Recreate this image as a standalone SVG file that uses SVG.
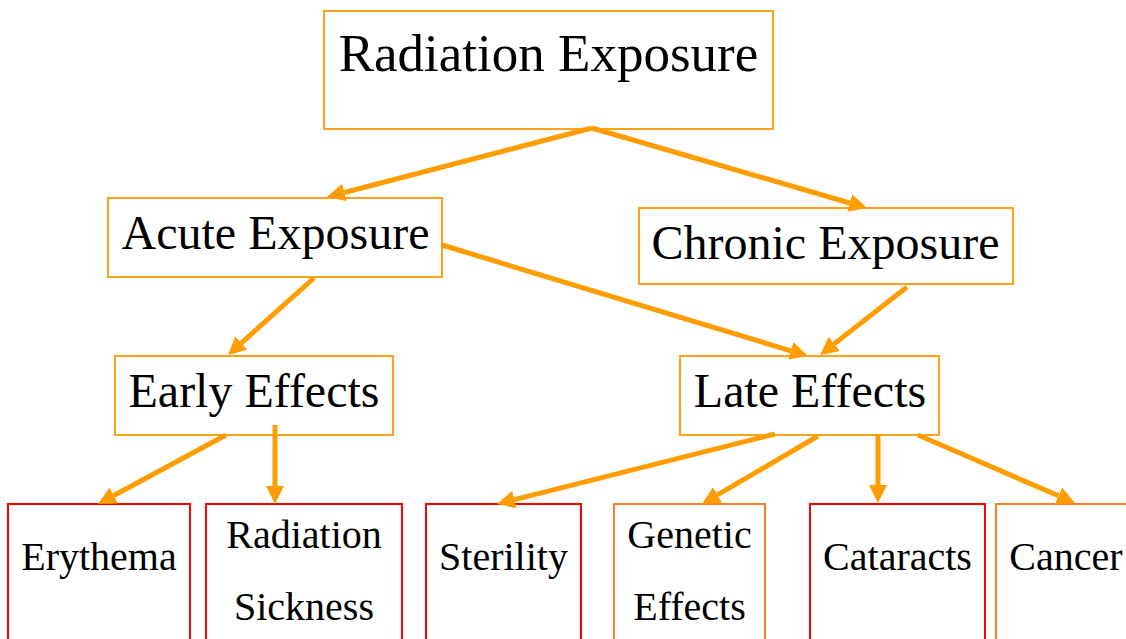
<svg xmlns="http://www.w3.org/2000/svg" width="1126" height="639" viewBox="0 0 1126 639">
<style>
.box{fill:#fff;stroke:#ffa21a;stroke-width:2}
.red{fill:#fff;stroke:#ff0000;stroke-width:2}
.org{fill:#fff;stroke:#ff8020;stroke-width:2}
.t{font-family:"Liberation Serif","Times New Roman",serif;fill:#000;text-anchor:middle}
.big{font-size:53px}
.mid{font-size:48px}
.sm{font-size:40px}
.c{stroke:#ff9c00;stroke-width:5;fill:none;marker-end:url(#ah)}
</style>
<defs>
<marker id="ah" markerUnits="userSpaceOnUse" viewBox="0 0 18 18" markerWidth="18" markerHeight="18" refX="0" refY="9" orient="auto">
<path d="M0,0 L18,9 L0,18 z" fill="#ff9c00"/>
</marker>
</defs>
<rect width="1126" height="639" fill="#fff"/>
<g id="n-radiation-exposure"><rect class="box" x="324" y="11" width="449" height="118"/><text class="t big" x="548.5" y="71">Radiation Exposure</text></g>
<g id="n-acute"><rect class="box" x="108" y="198" width="334" height="79"/><text class="t mid" x="275.5" y="249">Acute Exposure</text></g>
<g id="n-chronic"><rect class="box" x="639" y="208" width="374" height="76"/><text class="t mid" x="825.5" y="259">Chronic Exposure</text></g>
<g id="n-early"><rect class="box" x="115" y="356" width="278" height="79"/><text class="t mid" x="254" y="407">Early Effects</text></g>
<g id="n-late"><rect class="box" x="680" y="356" width="259" height="79"/><text class="t mid" x="810" y="407">Late Effects</text></g>
<g id="n-erythema"><rect class="red" x="8" y="504" width="182" height="150"/><text class="t sm" x="99" y="570">Erythema</text></g>
<g id="n-sickness"><rect class="red" x="206" y="504" width="196" height="150"/><text class="t sm" x="304" y="548">Radiation</text><text class="t sm" x="304" y="620">Sickness</text></g>
<g id="n-sterility"><rect class="red" x="426" y="504" width="155" height="150"/><text class="t sm" x="503.5" y="570">Sterility</text></g>
<g id="n-genetic"><rect class="org" x="614" y="504" width="151" height="150"/><text class="t sm" x="689.5" y="548">Genetic</text><text class="t sm" x="689.5" y="620">Effects</text></g>
<g id="n-cataracts"><rect class="red" x="810" y="504" width="175" height="150"/><text class="t sm" x="897.5" y="570">Cataracts</text></g>
<g id="n-cancer"><rect class="org" x="996" y="504" width="145" height="150"/><text class="t sm" x="1066" y="570">Cancer</text></g>
<g id="connectors">
<line class="c" x1="592" y1="128" x2="344.4" y2="192.5"/>
<line class="c" x1="592" y1="128" x2="849.7" y2="203"/>
<line class="c" x1="442" y1="245" x2="790.8" y2="350.8"/>
<line class="c" x1="907" y1="287" x2="834.2" y2="343.9"/>
<line class="c" x1="314" y1="278" x2="241.4" y2="343"/>
<line class="c" x1="226" y1="435" x2="113.8" y2="495.5"/>
<line class="c" x1="275" y1="425" x2="275" y2="486"/>
<line class="c" x1="775" y1="434" x2="514.5" y2="499.6"/>
<line class="c" x1="818" y1="436" x2="717.5" y2="494.9"/>
<line class="c" x1="878" y1="434" x2="878" y2="485"/>
<line class="c" x1="918" y1="435" x2="1058.5" y2="495.8"/>
</g>
</svg>
